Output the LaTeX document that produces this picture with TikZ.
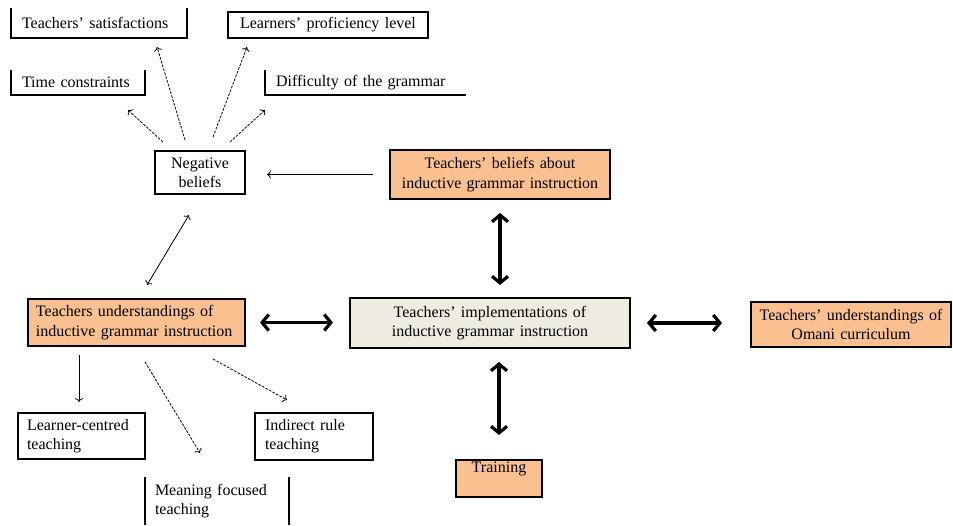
\documentclass[tikz,border=0pt]{standalone}
\usepackage{fontspec}
\setmainfont{Liberation Serif}
\usetikzlibrary{calc, arrows.meta}
\definecolor{boxorange}{HTML}{FAC090}
\definecolor{boxgrey}{HTML}{EEECE1}
\newdimen\pxu \pxu=0.75pt

\begin{document}
\begin{tikzpicture}[x=0.75pt, y=-0.75pt, font=\fontsize{12}{14.5}\selectfont, line join=miter,
	every node/.style={rectangle, anchor=north west, inner sep=0pt, outer sep=0pt},
	wbox/.style={draw, line width=0.8pt, fill=white},
	obox/.style={draw, line width=1.6pt, fill=boxorange},
	gbox/.style={draw, line width=1.6pt, fill=boxgrey},
	thinarrow/.style={->, line width=0.6pt},
	dasharrow/.style={->, line width=0.6pt, dash pattern=on 2pt off 1pt},
	bigarrow/.style={{Straight Barb[length=5pt, width=12pt]}-{Straight Barb[length=5pt, width=12pt]}, line width=2.4pt}]
	
	\path[use as bounding box, fill=white] (0,0) rectangle (953,525);
	
	% Niềm tin tiêu cực
	\node[minimum width=176\pxu, minimum height=30\pxu, text width=154\pxu, align=left] (sat) at (11, 8) {Teachers' satisfactions};
	\node[wbox, minimum width=200\pxu, minimum height=26\pxu, text width=176\pxu, align=left] (learn) at (228, 12) {Learners' proficiency level};
	\node[minimum width=134\pxu, minimum height=25\pxu, text width=112\pxu, align=left] (time) at (11, 70) {Time constraints};
	\node[minimum width=201\pxu, minimum height=25\pxu, text width=179\pxu, align=left] (diff) at (265, 70) {Difficulty of the grammar};
	\draw[line width=0.8pt] (sat.north west) |- (sat.south east) -- (sat.north east);
	\draw[line width=0.8pt] (time.north west) |- (time.south east) -- (time.north east);
	\draw[line width=0.8pt] (diff.north west) |- (diff.south east);
	
	\node[wbox, minimum width=90\pxu, minimum height=43\pxu, text width=80\pxu, align=center] (neg) at (155, 151) {Negative\\beliefs};
	\draw[dasharrow] ($(neg.north west)+(8,-9)$) -- ($(time.south east)+(-17,15)$);
	\draw[dasharrow] ($(neg.north west)+(30,-11)$) -- ($(sat.south east)+(-30,9)$);
	\draw[dasharrow] ($(neg.north east)+(-32,-14)$) -- ($(learn.south west)+(19,9)$);
	\draw[dasharrow] ($(neg.north east)+(-15,-9)$) -- ($(diff.south west)+(0,15)$);
	
	% Hàng giữa
	\node[obox, minimum width=220\pxu, minimum height=49\pxu, text width=210\pxu, align=center] (bel) at (390, 150) {Teachers' beliefs about\\inductive grammar instruction};
	\node[gbox, minimum width=280\pxu, minimum height=50\pxu, text width=260\pxu, align=center] (impl) at (350, 298) {Teachers' implementations of\\inductive grammar instruction};
	\node[obox, minimum width=200\pxu, minimum height=45\pxu, text width=190\pxu, align=center] (omani) at (751, 302) {Teachers' understandings of\\Omani curriculum};
	\node[obox, minimum width=217\pxu, minimum height=47\pxu, text width=201\pxu, align=left] (und) at (28, 299) {Teachers understandings of\\inductive grammar instruction};
	\node[obox, minimum width=86\pxu, minimum height=37\pxu, text depth=22\pxu, align=center] (train) at (456, 460) {Training};
	
	\draw[thinarrow, shorten <=17\pxu, shorten >=22\pxu] (bel.west) -- (bel.west -| neg.east);
	\draw[bigarrow, shorten <=14\pxu, shorten >=13\pxu] (bel.south) -- (bel.south |- impl.north);
	\draw[bigarrow, shorten <=25\pxu, shorten >=14\pxu] (train.north) -- (train.north |- impl.south);
	\draw[bigarrow, shorten <=17\pxu, shorten >=29\pxu] (impl.east) -- (impl.east -| omani.west);
	\draw[bigarrow, shorten <=15\pxu, shorten >=17\pxu] (und.east) -- (und.east -| impl.west);
	\draw[<->, line width=0.6pt] ($(und.north west)+(119,-14)$) -- ($(neg.south)+(-11,21)$);
	
	% Hiểu biết của giáo viên
	\node[wbox, minimum width=127\pxu, minimum height=46\pxu, text width=109\pxu, align=left] (lc) at (18, 413) {Learner-centred\\teaching};
	\node[wbox, minimum width=118\pxu, minimum height=47\pxu, text width=98\pxu, align=left] (ind) at (255, 413) {Indirect rule\\teaching};
	\node[minimum width=144\pxu, minimum height=48\pxu, text width=124\pxu, align=left] (mean) at (145, 477) {Meaning focused\\teaching};
	\draw[line width=0.8pt] (mean.north west) -- (mean.south west) (mean.north east) -- (mean.south east);
	
	\draw[thinarrow] ($(und.south west)+(51,9)$) -- ($(lc.north west)+(61,-11)$);
	\draw[dasharrow] ($(und.south)+(8.5,16)$) -- ($(mean.north)+(-17,-24)$);
	\draw[dasharrow] ($(und.south east)+(-32,13)$) -- ($(ind.north west)+(32,-13)$);
	
\end{tikzpicture}
\end{document}
